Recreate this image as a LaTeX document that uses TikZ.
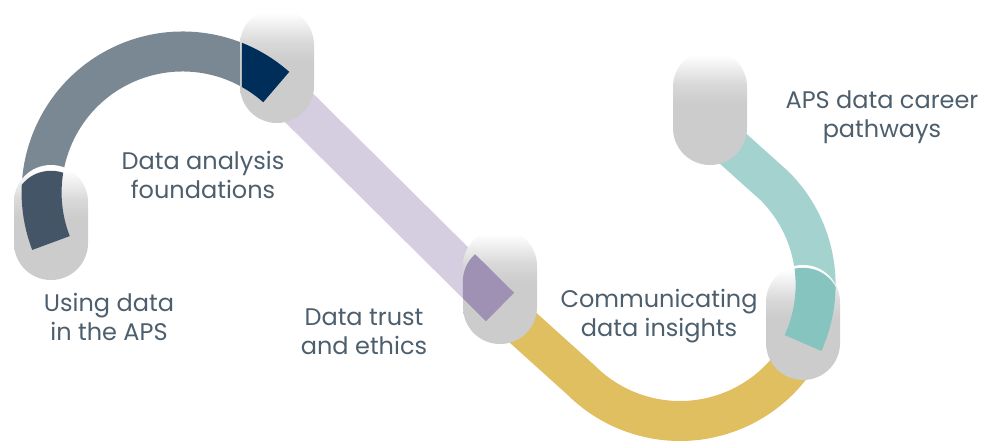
\documentclass[tikz,border=0pt]{standalone}
\usepackage{fontspec}
\setmainfont{Poppins}
\usetikzlibrary{calc}
\definecolor{pegc}{HTML}{CCCCCC}
\definecolor{slate}{HTML}{7A8893}
\definecolor{slatedk}{HTML}{445567}
\definecolor{navy}{HTML}{002E5B}
\definecolor{lilac}{HTML}{D5CDE0}
\definecolor{lilacdk}{HTML}{9F91B3}
\definecolor{mustard}{HTML}{DFBF5F}
\definecolor{teal}{HTML}{A3D2CF}
\definecolor{tealdk}{HTML}{86C4C0}
\definecolor{txtc}{HTML}{4D5E6D}
\pgfdeclareverticalshading{pegfade}{100bp}{color(0bp)=(pegc); color(25bp)=(pegc); color(52bp)=(pegc); color(60bp)=(pegc!75!white); color(67bp)=(pegc!35!white); color(73bp)=(white); color(100bp)=(white)}
\tikzset{
  peg/.style={rectangle, rounded corners=36.9pt, minimum width=74pt, minimum height=115pt, inner sep=0pt, shade, shading=pegfade, draw=none},
  band/.style={line width=40pt, line cap=butt, line join=round},
  lbl/.style={text=txtc, align=center, font=\fontsize{24}{29}\selectfont, inner sep=0pt}
}
\begin{document}
\begin{tikzpicture}[x=1pt,y=1pt]
\useasboundingbox (0,0) rectangle (981,-442);
% anchor points (centres of the pegs' rounded bottoms)
\coordinate (c1) at (51,-243);
\coordinate (c2) at (277,-86);
\coordinate (c3) at (500,-307);
\coordinate (c4) at (803,-343);
\coordinate (c5) at (710,-128);
\coordinate (ty) at (581,-380);
% light bands
\draw[band, mustard] (c3) -- (ty) arc[start angle=225, end angle=333, radius=140];
\draw[band, teal] (c4) arc[start angle=-24.5, end angle=45, radius=140] -- (c5);
\draw[band, lilac] (c2) -- (c3);
\draw[band, slate] (c1) arc[start angle=201, end angle=48.4, radius=141];
% pegs
\node[peg] (peg1) at ($(c1)+(0,20.5)$) {};
\node[peg] (peg2) at ($(c2)+(0,20.5)$) {};
\node[peg] (peg3) at ($(c3)+(0,20.5)$) {};
\node[peg] (peg4) at ($(c4)+(0,20.5)$) {};
\node[peg] (peg5) at ($(c5)+(0,20.5)$) {};
% darker parts of the bands lying on the pegs
\begin{scope}
\clip[rounded corners=36.9pt] (peg1.south west) rectangle ($(peg1.north east)+(0,-6)$);
\draw[band, slatedk] (c1) arc[start angle=201, end angle=48.4, radius=141];
\end{scope}
\begin{scope}
\clip[rounded corners=36.9pt] ($(peg2.south west)+(2,0)$) rectangle (peg2.north east);
\draw[band, navy] (c1) arc[start angle=201, end angle=48.4, radius=141];
\end{scope}
\begin{scope}
\clip[rounded corners=36.9pt] (peg3.south west) rectangle ($(peg3.north east)+(0,-16)$);
\draw[band, lilacdk] (c2) -- (c3);
\end{scope}
\begin{scope}
\clip[rounded corners=36.9pt] (peg4.south west) rectangle ($(peg4.north east)+(0,-3)$);
\draw[band, tealdk] (c4) arc[start angle=-24.5, end angle=45, radius=140] -- (c5);
\end{scope}
% labels
\node[lbl] (t1) at (109,-317) {Using data\\in the APS};
\node[lbl] (t2) at (203,-175) {Data analysis\\foundations};
\node[lbl] (t3) at (364,-332) {Data trust\\and ethics};
\node[lbl] (t4) at (659,-316) {Communicating\\data insights};
\node[lbl] (t5) at (882,-117) {APS data career\\pathways};
\end{tikzpicture}
\end{document}
